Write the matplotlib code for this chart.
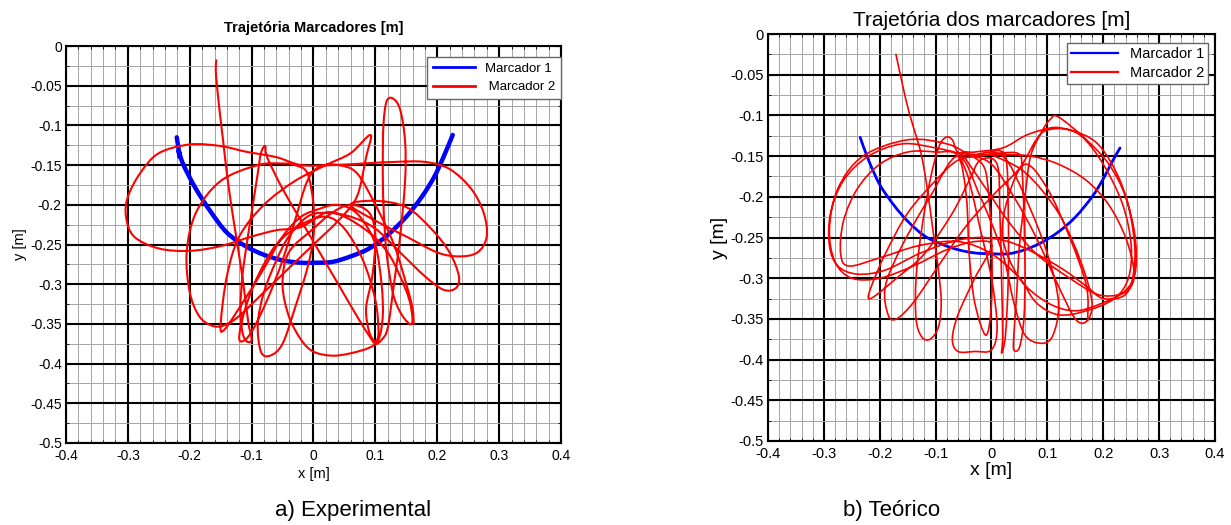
import matplotlib.pyplot as plt
import numpy as np
from matplotlib.path import Path
from matplotlib.patches import PathPatch
from matplotlib.lines import Line2D

plt.rcParams['font.family'] = ['Liberation Sans', 'DejaVu Sans']
plt.rcParams['axes.unicode_minus'] = False

# tick positions / labels shared by both panels
x_ticks = [-0.4, -0.3, -0.2, -0.1, 0.0, 0.1, 0.2, 0.3, 0.4]
x_tick_labels = ['-0.4', '-0.3', '-0.2', '-0.1', '0', '0.1', '0.2', '0.3', '0.4']
y_ticks = [0.0, -0.05, -0.1, -0.15, -0.2, -0.25, -0.3, -0.35, -0.4, -0.45, -0.5]
y_tick_labels = ['0', '-0.05', '-0.1', '-0.15', '-0.2', '-0.25', '-0.3', '-0.35', '-0.4', '-0.45', '-0.5']

# a) experimental trajectories, (x, y) in m
exp_m1 = [(-0.221, -0.115), (-0.219, -0.125), (-0.216, -0.14), (-0.218, -0.132), (-0.21, -0.15),
          (-0.19, -0.18), (-0.165, -0.21), (-0.14, -0.235), (-0.11, -0.252), (-0.08, -0.263),
          (-0.05, -0.27), (-0.02, -0.273), (0.0, -0.273), (0.03, -0.272), (0.06, -0.265),
          (0.09, -0.255), (0.12, -0.238), (0.15, -0.215), (0.175, -0.19), (0.195, -0.165),
          (0.21, -0.14), (0.225, -0.112)]

exp_m2 = [(-0.157, -0.018), (-0.158, -0.03), (-0.156, -0.05), (-0.152, -0.08), (-0.146, -0.12),
          (-0.14, -0.16), (-0.133, -0.2), (-0.125, -0.24), (-0.117, -0.28), (-0.11, -0.32),
          (-0.105, -0.35), (-0.1, -0.37), (-0.108, -0.372), (-0.115, -0.36), (-0.118, -0.33),
          (-0.115, -0.29), (-0.108, -0.25), (-0.098, -0.2), (-0.09, -0.16), (-0.085, -0.135),
          (-0.078, -0.126), (-0.075, -0.14), (-0.05, -0.18), (-0.02, -0.22), (0.01, -0.26),
          (0.04, -0.3), (0.07, -0.34), (0.09, -0.365), (0.1, -0.375), (0.11, -0.37), (0.12, -0.355),
          (0.13, -0.3), (0.14, -0.24), (0.148, -0.17), (0.148, -0.12), (0.14, -0.08), (0.128, -0.066),
          (0.118, -0.07), (0.113, -0.1), (0.112, -0.15), (0.113, -0.2), (0.118, -0.26), (0.128, -0.31),
          (0.14, -0.335), (0.155, -0.35), (0.16, -0.345), (0.155, -0.32), (0.14, -0.29), (0.12, -0.26),
          (0.09, -0.235), (0.05, -0.215), (0.02, -0.21), (-0.02, -0.228), (-0.06, -0.232),
          (-0.1, -0.24), (-0.15, -0.252), (-0.2, -0.258), (-0.25, -0.255), (-0.29, -0.24),
          (-0.303, -0.215), (-0.3, -0.19), (-0.28, -0.16), (-0.25, -0.135), (-0.2, -0.124),
          (-0.15, -0.126), (-0.11, -0.133), (-0.06, -0.14), (-0.02, -0.15), (0.03, -0.15),
          (0.08, -0.148), (0.13, -0.146), (0.18, -0.146), (0.22, -0.155), (0.255, -0.18),
          (0.275, -0.21), (0.28, -0.24), (0.265, -0.26), (0.235, -0.265), (0.2, -0.26), (0.15, -0.24),
          (0.1, -0.22), (0.06, -0.2), (0.1, -0.195), (0.15, -0.203), (0.19, -0.23), (0.22, -0.26),
          (0.235, -0.29), (0.23, -0.305), (0.21, -0.307), (0.18, -0.29), (0.14, -0.26), (0.1, -0.23),
          (0.06, -0.215), (0.02, -0.21), (-0.01, -0.215), (-0.04, -0.24), (-0.06, -0.27),
          (-0.08, -0.31), (-0.09, -0.35), (-0.085, -0.385), (-0.07, -0.39), (-0.05, -0.375),
          (-0.03, -0.33), (-0.01, -0.28), (0.0, -0.24), (0.0, -0.2), (-0.01, -0.16), (-0.03, -0.15),
          (-0.05, -0.148), (-0.09, -0.15), (-0.15, -0.17), (-0.19, -0.21), (-0.205, -0.26),
          (-0.2, -0.31), (-0.185, -0.34), (-0.165, -0.352), (-0.145, -0.352), (-0.12, -0.34),
          (-0.08, -0.31), (-0.04, -0.28), (0.0, -0.25), (0.04, -0.22), (0.07, -0.19), (0.085, -0.14),
          (0.092, -0.112), (0.06, -0.135), (0.02, -0.15), (-0.03, -0.17), (-0.08, -0.2),
          (-0.12, -0.24), (-0.14, -0.29), (-0.15, -0.35), (-0.145, -0.358), (-0.12, -0.33),
          (-0.08, -0.28), (-0.05, -0.24), (-0.02, -0.215), (0.01, -0.205), (0.035, -0.2),
          (0.06, -0.205), (0.08, -0.22), (0.1, -0.25), (0.11, -0.3), (0.112, -0.34), (0.105, -0.37),
          (0.09, -0.38), (0.06, -0.387), (0.03, -0.39), (0.0, -0.385), (-0.02, -0.37), (-0.04, -0.34),
          (-0.05, -0.3), (-0.04, -0.26), (0.0, -0.23), (0.03, -0.21), (0.06, -0.2), (0.09, -0.21),
          (0.1, -0.24), (0.095, -0.29), (0.085, -0.33), (0.09, -0.36), (0.1, -0.372), (0.105, -0.36),
          (0.1, -0.32), (0.08, -0.27), (0.05, -0.23), (0.02, -0.215), (-0.02, -0.225), (-0.06, -0.25),
          (-0.09, -0.29), (-0.11, -0.33), (-0.12, -0.365), (-0.115, -0.372), (-0.1, -0.36),
          (-0.075, -0.32), (-0.05, -0.27), (-0.03, -0.22), (-0.01, -0.17), (0.01, -0.152),
          (0.04, -0.15), (0.07, -0.16), (0.1, -0.2), (0.13, -0.25), (0.15, -0.3), (0.16, -0.33),
          (0.162, -0.35)]

# b) theoretical trajectories, (x, y) in m
teo_m1 = [(-0.235, -0.127), (-0.22, -0.155), (-0.2, -0.185), (-0.175, -0.21), (-0.15, -0.23),
          (-0.12, -0.248), (-0.09, -0.258), (-0.06, -0.265), (-0.03, -0.269), (0.0, -0.27),
          (0.03, -0.27), (0.06, -0.265), (0.09, -0.256), (0.12, -0.243), (0.15, -0.225),
          (0.18, -0.2), (0.2, -0.178), (0.215, -0.158), (0.23, -0.14)]

teo_m2 = [(-0.171, -0.025), (-0.16, -0.06), (-0.148, -0.095), (-0.135, -0.125), (-0.125, -0.15),
          (-0.115, -0.19), (-0.105, -0.24), (-0.095, -0.29), (-0.09, -0.33), (-0.095, -0.36),
          (-0.11, -0.375), (-0.125, -0.372), (-0.135, -0.35), (-0.135, -0.3), (-0.125, -0.24),
          (-0.11, -0.18), (-0.095, -0.14), (-0.082, -0.127), (-0.07, -0.13), (-0.06, -0.145),
          (-0.03, -0.148), (0.02, -0.148), (0.07, -0.15), (0.12, -0.16), (0.17, -0.18), (0.21, -0.21),
          (0.24, -0.25), (0.255, -0.29), (0.25, -0.31), (0.23, -0.32), (0.19, -0.32), (0.14, -0.3),
          (0.08, -0.27), (0.03, -0.23), (-0.01, -0.19), (-0.04, -0.16), (-0.055, -0.148),
          (-0.1, -0.14), (-0.16, -0.135), (-0.22, -0.15), (-0.265, -0.18), (-0.288, -0.22),
          (-0.29, -0.26), (-0.275, -0.285), (-0.24, -0.295), (-0.19, -0.29), (-0.13, -0.27),
          (-0.07, -0.255), (-0.02, -0.25), (0.03, -0.255), (0.08, -0.27), (0.13, -0.29),
          (0.17, -0.31), (0.2, -0.325), (0.24, -0.32), (0.255, -0.29), (0.255, -0.25), (0.24, -0.2),
          (0.21, -0.16), (0.17, -0.13), (0.12, -0.102), (0.105, -0.105), (0.09, -0.12), (0.07, -0.15),
          (0.06, -0.2), (0.05, -0.26), (0.045, -0.32), (0.04, -0.37), (0.04, -0.388), (0.05, -0.385),
          (0.058, -0.35), (0.06, -0.29), (0.058, -0.22), (0.055, -0.17), (0.05, -0.148),
          (0.02, -0.146), (-0.02, -0.15), (-0.06, -0.155), (-0.1, -0.18), (-0.15, -0.22),
          (-0.19, -0.27), (-0.215, -0.31), (-0.22, -0.325), (-0.205, -0.32), (-0.17, -0.3),
          (-0.12, -0.27), (-0.07, -0.22), (-0.04, -0.18), (-0.02, -0.155), (0.01, -0.16),
          (0.015, -0.22), (0.018, -0.3), (0.02, -0.37), (0.018, -0.392), (0.025, -0.37), (0.03, -0.3),
          (0.03, -0.22), (0.025, -0.15), (0.0, -0.148), (0.06, -0.17), (0.12, -0.22), (0.16, -0.28),
          (0.18, -0.33), (0.17, -0.353), (0.15, -0.35), (0.12, -0.31), (0.08, -0.25), (0.04, -0.2),
          (0.0, -0.16), (-0.04, -0.148), (-0.08, -0.135), (-0.15, -0.13), (-0.23, -0.15),
          (-0.275, -0.19), (-0.29, -0.24), (-0.28, -0.28), (-0.25, -0.3), (-0.2, -0.3),
          (-0.14, -0.285), (-0.08, -0.265), (-0.03, -0.255), (0.0, -0.26), (-0.03, -0.3),
          (-0.06, -0.345), (-0.07, -0.375), (-0.06, -0.39), (-0.03, -0.39), (0.0, -0.388),
          (0.01, -0.36), (0.0, -0.3), (-0.02, -0.24), (-0.04, -0.18), (-0.055, -0.148),
          (-0.03, -0.145), (0.02, -0.14), (0.06, -0.125), (0.09, -0.118), (0.12, -0.115),
          (0.16, -0.125), (0.2, -0.16), (0.235, -0.21), (0.25, -0.26), (0.245, -0.3), (0.22, -0.325),
          (0.17, -0.34), (0.12, -0.345), (0.08, -0.33), (0.05, -0.3), (0.0, -0.27), (-0.06, -0.255),
          (-0.13, -0.26), (-0.2, -0.275), (-0.255, -0.285), (-0.27, -0.27), (-0.265, -0.23),
          (-0.24, -0.19), (-0.2, -0.16), (-0.15, -0.145), (-0.1, -0.145), (-0.06, -0.15),
          (-0.045, -0.2), (-0.04, -0.27), (-0.03, -0.33), (-0.01, -0.37), (0.0, -0.33), (0.0, -0.25),
          (-0.01, -0.17), (-0.03, -0.15), (0.02, -0.15), (0.06, -0.2), (0.1, -0.27), (0.12, -0.33),
          (0.11, -0.37), (0.09, -0.38), (0.06, -0.37), (0.04, -0.33), (0.02, -0.27), (-0.02, -0.2),
          (-0.06, -0.15), (-0.11, -0.2), (-0.16, -0.26), (-0.19, -0.31), (-0.185, -0.345),
          (-0.17, -0.35), (-0.14, -0.33), (-0.1, -0.29), (-0.05, -0.24), (0.0, -0.2), (0.05, -0.165),
          (0.08, -0.13), (0.1, -0.118), (0.14, -0.118), (0.19, -0.135), (0.23, -0.18), (0.255, -0.24),
          (0.258, -0.29), (0.24, -0.315), (0.2, -0.33), (0.15, -0.34), (0.1, -0.33), (0.05, -0.3),
          (0.02, -0.25), (0.03, -0.2), (0.06, -0.16), (0.1, -0.19), (0.14, -0.25), (0.17, -0.31),
          (0.172, -0.352)]


def smooth_path(pts):
    """Catmull-Rom curve through the sampled points, as a bezier Path."""
    p = np.array(pts, dtype=float)
    q = np.vstack([p[0], p, p[-1]])
    verts = [p[0]]
    codes = [Path.MOVETO]
    for i in range(1, len(q) - 2):
        p0, p1, p2, p3 = q[i - 1], q[i], q[i + 1], q[i + 2]
        verts += [p1 + (p2 - p0) / 6, p2 - (p3 - p1) / 6, p2]
        codes += [Path.CURVE4] * 3
    return Path(verts, codes)


def draw_track(ax, pts, color, lw, z):
    ax.add_patch(PathPatch(smooth_path(pts), fill=False, edgecolor=color, linewidth=lw,
                           capstyle='round', joinstyle='round', zorder=z))


def style_axes(ax, tick_size):
    """MATLAB-like box with major and minor grid."""
    ax.set_xlim(-0.4, 0.4)
    ax.set_ylim(-0.5, 0.0)
    ax.set_xticks(x_ticks)
    ax.set_xticklabels(x_tick_labels)
    ax.set_yticks(y_ticks)
    ax.set_yticklabels(y_tick_labels)
    ax.set_xticks(np.arange(-0.4, 0.41, 0.02), minor=True)
    ax.set_yticks(np.arange(-0.5, 0.01, 0.025), minor=True)
    ax.grid(which='minor', color='#a5a5a5', linewidth=0.7, linestyle='-')
    ax.grid(which='major', color='black', linewidth=1.5, linestyle='-')
    ax.set_axisbelow(True)
    ax.tick_params(which='both', direction='in', top=True, right=True, labelsize=tick_size, pad=3)
    ax.tick_params(axis='x', which='major', pad=4)
    ax.tick_params(which='major', length=4)
    ax.tick_params(which='minor', length=2)
    for s in ax.spines.values():
        s.set_linewidth(1.5)


fig = plt.figure(figsize=(12.31, 5.25), dpi=100)

ax1 = fig.add_axes([66 / 1231, 1 - 443 / 525, 495 / 1231, 397 / 525])
style_axes(ax1, 10)
draw_track(ax1, exp_m1, 'blue', 3.2, 3)
draw_track(ax1, exp_m2, 'red', 1.5, 4)
ax1.set_title('Trajetória Marcadores [m]', fontsize=10.5, fontweight='bold', pad=10)
ax1.set_xlabel('x [m]', fontsize=10.5, labelpad=3)
ax1.set_ylabel('y [m]', fontsize=10.5, labelpad=2)
handles1 = [Line2D([], [], color='blue', linewidth=2, label='Marcador 1'),
            Line2D([], [], color='red', linewidth=2, label=' Marcador 2')]
leg1 = ax1.legend(handles=handles1, loc='upper right', bbox_to_anchor=(1.0, 0.972), borderaxespad=0,
                  fontsize=9.5, handlelength=3.2, fancybox=False, framealpha=1, edgecolor='0.4')
leg1.get_frame().set_linewidth(1.0)

ax2 = fig.add_axes([768 / 1231, 1 - 441 / 525, 447 / 1231, 407 / 525])
style_axes(ax2, 10.5)
draw_track(ax2, teo_m1, 'blue', 2.0, 3)
draw_track(ax2, teo_m2, 'red', 1.2, 4)
ax2.set_title('Trajetória dos marcadores [m]', fontsize=15, pad=6)
ax2.set_xlabel('x [m]', fontsize=14, labelpad=1)
ax2.set_ylabel('y [m]', fontsize=14, labelpad=2)
handles2 = [Line2D([], [], color='blue', linewidth=1.6, label='Marcador 1'),
            Line2D([], [], color='red', linewidth=1.6, label='Marcador 2')]
leg2 = ax2.legend(handles=handles2, loc='upper right', bbox_to_anchor=(0.985, 0.978), borderaxespad=0,
                  fontsize=10.5, handlelength=3.2, fancybox=False, framealpha=1, edgecolor='0.4',
                  borderpad=0.3, labelspacing=0.3)
leg2.get_frame().set_linewidth(1.0)

fig.text(0.287, 0.028, 'a) Experimental', fontsize=16, ha='center', va='center')
fig.text(0.724, 0.028, 'b) Teórico', fontsize=16, ha='center', va='center')

fig.savefig('out.png', dpi=100)
